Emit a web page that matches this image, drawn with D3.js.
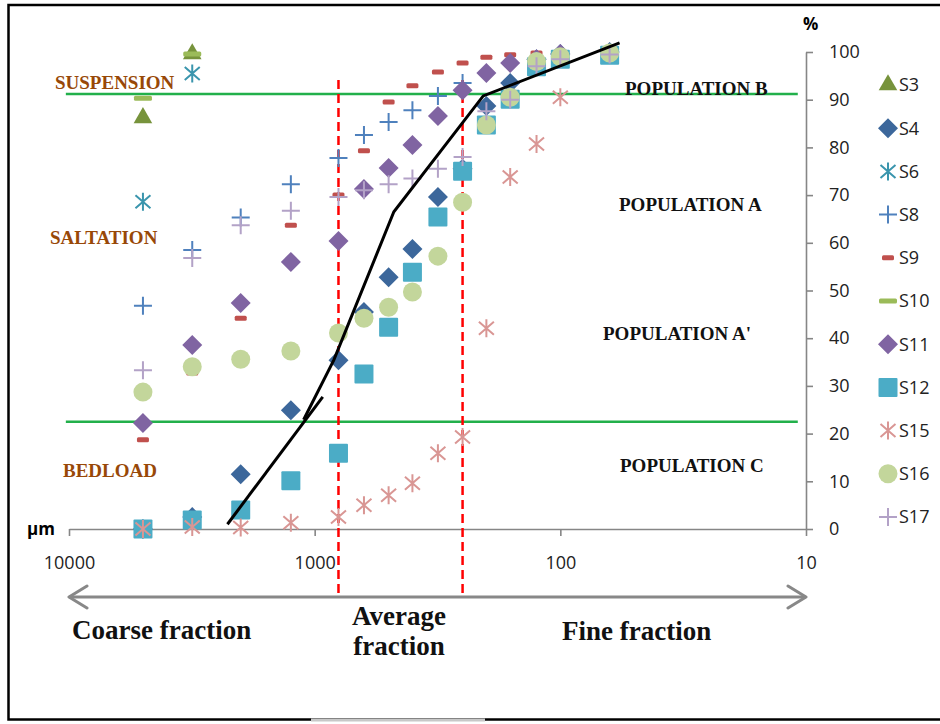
<!DOCTYPE html>
<html>
<head>
<meta charset="utf-8">
<script src="https://cdn.jsdelivr.net/npm/d3@7"></script>
<style>
  body { margin: 0; background: #fff; }
</style>
</head>
<body>
<div id="chart"></div>
<script>
// sieve openings (µm) and cumulative % per sample
var sieves = [5000, 3150, 2000, 1250, 800, 630, 500, 400, 315, 250, 200, 160, 125, 100, 63];
var s3  = [86.2, 99.6];
var s4  = [0, 2.5, 11.5, 24.9, 35.4, 45.5, 52.8, 58.7, 69.6, 75.5, 88.7, 93.5, 98.5, 99.6, 100];
var s6  = [68.6, 95.5];
var s8  = [46.8, 58.5, 65.3, 72.3, 77.8, 82.6, 85.3, 87.8, 90.8, 93.5];
var s9  = [18.7, 32.7, 44.2, 63.7, 70.0, 79.3, 89.5, 92.9, 95.8, 97.7, 98.9, 99.4, 99.8];
var s10 = [90.3, 99.6];
var s11 = [22.2, 38.6, 47.4, 56.0, 60.4, 71.3, 75.7, 80.5, 86.6, 92.0, 95.6, 97.7, 98.5, 99.6];
var s12 = [0, 1.9, 4.0, 10.1, 15.9, 32.5, 42.3, 53.8, 65.4, 75.0, 84.7, 90.1, 96.9, 98.5, 99.3];
var s15 = [0, 0.4, 0.3, 1.3, 2.5, 5.0, 7.1, 9.6, 15.9, 19.3, 42.1, 73.8, 80.7, 90.5];
var s16 = [28.7, 34.0, 35.6, 37.3, 41.1, 44.2, 46.5, 49.7, 57.2, 68.5, 84.7, 90.5, 98.0, 99.0, 99.8];
var s17 = [33.3, 56.8, 63.7, 66.7, 69.6, 71.0, 72.3, 73.5, 75.5, 78.0, 87.6, 90.0, 97.0, 98.5, 99.5];

// hand drawn trend (two strokes)
var trendSizeLow = [2265, 927];
var trendPctLow  = [1.0, 27.7];
var trendSizeUp  = [1109, 836, 476, 206, 57.4];
var trendPctUp   = [22.9, 35.4, 66.5, 90.8, 101.9];

// population limits (%) and fraction limits (µm)
var popLimits = [91.2, 22.5];
var fracLimits = [800, 250];
var limitSpan = [10300, 10.8];

var xTicks = [10000, 1000, 100, 10];
var yTicks = [0, 10, 20, 30, 40, 50, 60, 70, 80, 90, 100];

var series = [
  {name: "S3",  values: s3,  shape: "triangle", color: "#77933C"},
  {name: "S4",  values: s4,  shape: "diamond",  color: "#3C679B"},
  {name: "S6",  values: s6,  shape: "star",     color: "#3A95AD"},
  {name: "S8",  values: s8,  shape: "plus",     color: "#4F81BD"},
  {name: "S9",  values: s9,  shape: "dash",     color: "#C0504D"},
  {name: "S10", values: s10, shape: "bar",      color: "#9BBB59"},
  {name: "S11", values: s11, shape: "diamond",  color: "#8064A2"},
  {name: "S12", values: s12, shape: "square",   color: "#4BACC6"},
  {name: "S15", values: s15, shape: "star",     color: "#D99694"},
  {name: "S16", values: s16, shape: "circle",   color: "#C3D69B"},
  {name: "S17", values: s17, shape: "plus",     color: "#B3A2C7"}
];

var margin = {top: 52, left: 69},
    width = 737,
    height = 477;

var root = d3.select("#chart")
  .append("svg")
    .attr("width", 940)
    .attr("height", 724);

// outer frame
root.append("rect")
  .attr("x", 8.5).attr("y", 5)
  .attr("width", 945).attr("height", 714.5)
  .style("fill", "none")
  .style("stroke", "#000")
  .style("stroke-width", 2.5);
root.append("line")
  .attr("x1", 311).attr("x2", 485).attr("y1", 720).attr("y2", 720)
  .style("stroke", "#c8c8c8").style("stroke-width", 3);

var svg = root.append("g")
  .attr("transform", "translate(" + margin.left + "," + margin.top + ")");

var x = d3.scaleLog().domain([10000, 10]).range([0, width]);
var y = d3.scaleLinear().domain([0, 100]).range([height, 0]);

// axes
var xAxis = svg.append("g")
  .attr("transform", "translate(0," + height + ")")
  .call(d3.axisBottom(x).tickValues(xTicks).tickFormat(d3.format("d"))
        .tickSize(7).tickSizeOuter(0).tickPadding(20));
var yAxis = svg.append("g")
  .attr("transform", "translate(" + width + ",0)")
  .call(d3.axisRight(y).tickValues(yTicks).tickSize(7).tickSizeOuter(0).tickPadding(16));

[xAxis, yAxis].forEach(function(a) {
  a.selectAll("path, line").style("stroke", "#868686").style("stroke-width", 1.6);
  a.selectAll("text")
    .style("font-family", "'Open Sans', sans-serif")
    .style("font-size", "18px")
    .style("fill", "#222");
});

svg.append("text")
  .attr("x", -42).attr("y", height + 6)
  .style("font-family", "'Open Sans', sans-serif")
  .style("font-size", "17px").style("font-weight", "bold")
  .text("µm");
svg.append("text")
  .attr("x", width - 3).attr("y", -22)
  .style("font-family", "'Open Sans', sans-serif")
  .style("font-size", "17px").style("font-weight", "bold")
  .text("%");

// green population limits
popLimits.forEach(function(p) {
  svg.append("line")
    .attr("x1", x(limitSpan[0])).attr("x2", x(limitSpan[1]))
    .attr("y1", y(p)).attr("y2", y(p))
    .style("stroke", "#22B04B")
    .style("stroke-width", 2.5);
});

// red dashed fraction limits
fracLimits.forEach(function(f) {
  svg.append("line")
    .attr("x1", x(f)).attr("x2", x(f))
    .attr("y1", 28).attr("y2", 545)
    .style("stroke", "#FF0000")
    .style("stroke-width", 2.5)
    .style("stroke-dasharray", "9,5");
});

// markers
function drawShape(sel, shape, color) {
  if (shape === "triangle") {
    sel.append("path").attr("d", d3.symbol(d3.symbolTriangle, 150)()).style("fill", color);
  } else if (shape === "diamond") {
    sel.append("path").attr("d", "M0,-10L10,0L0,10L-10,0Z").style("fill", color);
  } else if (shape === "square") {
    sel.append("rect").attr("x", -9.5).attr("y", -9.5).attr("width", 19).attr("height", 19)
      .attr("rx", 1).style("fill", color);
  } else if (shape === "circle") {
    sel.append("circle").attr("r", 9.5).style("fill", color);
  } else if (shape === "star") {
    sel.append("path").attr("d", "M0,-9V9M-7.5,-6.5L7.5,6.5M-7.5,6.5L7.5,-6.5")
      .style("stroke", color).style("stroke-width", 2).style("fill", "none");
  } else if (shape === "plus") {
    sel.append("path").attr("d", "M-9,0H9M0,-9V9")
      .style("stroke", color).style("stroke-width", 2).style("fill", "none");
  } else if (shape === "dash") {
    sel.append("rect").attr("x", -6).attr("y", -2.5).attr("width", 12).attr("height", 5)
      .attr("rx", 1.5).style("fill", color);
  } else if (shape === "bar") {
    sel.append("rect").attr("x", -9).attr("y", -2.5).attr("width", 18).attr("height", 5)
      .attr("rx", 1.5).style("fill", color);
  }
}

series.forEach(function(s) {
  var pts = s.values.map(function(v, i) { return {size: sieves[i], pct: v}; });
  svg.append("g").selectAll("g")
    .data(pts)
    .enter()
    .append("g")
      .attr("transform", function(d) { return "translate(" + x(d.size) + "," + y(d.pct) + ")"; })
      .each(function() { drawShape(d3.select(this), s.shape, s.color); });
});

// black trend strokes
var line = d3.line()
  .x(function(d) { return x(d[0]); })
  .y(function(d) { return y(d[1]); });
[[trendSizeLow, trendPctLow], [trendSizeUp, trendPctUp]].forEach(function(t) {
  svg.append("path")
    .datum(t[0].map(function(s, i) { return [s, t[1][i]]; }))
    .attr("d", line)
    .style("fill", "none")
    .style("stroke", "#000")
    .style("stroke-width", 3);
});

// zone labels
var serif = "'Liberation Serif', 'Times New Roman', serif";
var zoneLabels = [
  {t: "SUSPENSION", x: 55, y: 89, c: "#984807"},
  {t: "SALTATION", x: 50, y: 244, c: "#984807"},
  {t: "BEDLOAD", x: 63, y: 477, c: "#984807"},
  {t: "POPULATION B", x: 625, y: 95, c: "#111"},
  {t: "POPULATION A", x: 619, y: 211, c: "#111"},
  {t: "POPULATION A'", x: 603, y: 340, c: "#111"},
  {t: "POPULATION C", x: 620, y: 472, c: "#111"}
];
zoneLabels.forEach(function(l) {
  root.append("text")
    .attr("x", l.x).attr("y", l.y)
    .style("font-family", serif)
    .style("font-size", "19px")
    .style("font-weight", "bold")
    .style("fill", l.c)
    .text(l.t);
});

// fraction arrow
var arrowY = 597;
root.append("path")
  .attr("d", "M" + (margin.left + x(10000)) + "," + arrowY + "H" + (margin.left + x(10)))
  .style("stroke", "#888").style("stroke-width", 3).style("fill", "none");
root.append("path")
  .attr("d", "M" + (margin.left + x(10000) + 18) + "," + (arrowY - 11) + "L" + (margin.left + x(10000)) + "," + arrowY +
             "L" + (margin.left + x(10000) + 18) + "," + (arrowY + 11) +
             "M" + (margin.left + x(10) - 18) + "," + (arrowY - 11) + "L" + (margin.left + x(10)) + "," + arrowY +
             "L" + (margin.left + x(10) - 18) + "," + (arrowY + 11))
  .style("stroke", "#888").style("stroke-width", 3).style("fill", "none")
  .style("stroke-linecap", "round").style("stroke-linejoin", "round");

var fracText = [
  {t: "Coarse fraction", x: 72, y: 639, a: "start"},
  {t: "Average", x: 399, y: 625, a: "middle"},
  {t: "fraction", x: 399, y: 655, a: "middle"},
  {t: "Fine fraction", x: 562, y: 640, a: "start"}
];
fracText.forEach(function(l) {
  root.append("text")
    .attr("x", l.x).attr("y", l.y)
    .attr("text-anchor", l.a)
    .style("font-family", serif)
    .style("font-size", "27px")
    .style("font-weight", "bold")
    .style("fill", "#111")
    .text(l.t);
});

// legend
var legend = root.append("g").attr("transform", "translate(888,85)");
series.forEach(function(s, i) {
  var row = legend.append("g").attr("transform", "translate(0," + (i * 43.2) + ")");
  var mk = row.append("g");
  drawShape(mk, s.shape, s.color);
  row.append("text")
    .attr("x", 11).attr("y", 0).attr("dy", "0.36em")
    .style("font-family", "'Open Sans', sans-serif")
    .style("font-size", "18px")
    .style("fill", "#222")
    .text(s.name);
});
</script>
</body>
</html>
